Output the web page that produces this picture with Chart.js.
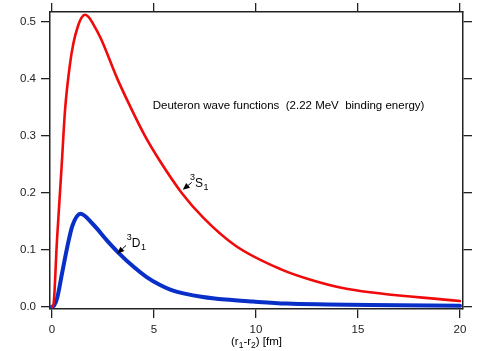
<!DOCTYPE html>
<html>
<head>
<meta charset="utf-8">
<style>
  body { margin: 0; background: #fff; }
  canvas { display: block; }
</style>
</head>
<body>
<canvas id="chart" width="488" height="351"></canvas>
<script src="https://cdn.jsdelivr.net/npm/chart.js"></script>
<script>
  // 3S1 wave function
  const rS = [0, 0.05, 0.25, 0.47, 0.64, 0.88, 1.05, 1.29, 1.45, 1.62, 1.8, 2.0, 2.4, 3.2, 3.85, 4.55, 5.3, 6.35, 7.45, 9.0, 11.2, 12.8, 14.5, 20];
  const uS = [0, 0, 0.12, 0.245, 0.345, 0.425, 0.462, 0.494, 0.507, 0.512, 0.508, 0.497, 0.47, 0.40, 0.35, 0.30, 0.255, 0.20, 0.155, 0.107, 0.066, 0.046, 0.031, 0.010];

  // 3D1 wave function
  const rD = [0, 0.1, 0.25, 0.5, 0.75, 1.0, 1.4, 2.0, 2.7, 3.25, 4.0, 4.64, 5.3, 5.8, 6.5, 7.4, 8.5, 9.85, 11.5, 13.5, 15.6, 20];
  const uD = [0, 0.002, 0.015, 0.06, 0.105, 0.142, 0.163, 0.145, 0.116, 0.095, 0.07, 0.052, 0.038, 0.03, 0.023, 0.017, 0.0125, 0.009, 0.0055, 0.004, 0.003, 0.0015];

  const xTicks = [0, 5, 10, 15, 20];
  const yTicks = [0, 0.1, 0.2, 0.3, 0.4, 0.5];

  const title = 'Deuteron wave functions  (2.22 MeV  binding energy)';
  const FONT = '"Liberation Sans", Arial, Helvetica, sans-serif';
  const INK = '#222';

  const pts = (xs, ys) => xs.map((x, i) => ({ x: x, y: ys[i] }));

  function axis(pos, min, max, list, labels, size) {
    const horiz = pos === 'top' || pos === 'bottom';
    return {
      type: 'linear',
      position: pos,
      min: min,
      max: max,
      afterBuildTicks: s => { s.ticks = list.map(v => ({ value: v })); },
      afterFit: s => { if (horiz) s.height = size; else s.width = size; },
      grid: { drawOnChartArea: false, tickLength: 9, color: INK, lineWidth: 1.3 },
      border: { color: INK, width: 1.5 },
      ticks: {
        display: labels,
        color: INK,
        padding: 5,
        maxRotation: 0,
        autoSkip: false,
        font: { family: FONT, size: 11.5 },
        callback: v => labels ? (horiz ? String(v) : v.toFixed(1)) : ''
      }
    };
  }

  // text with a leading superscript and trailing subscript, e.g. 3S1
  function term(ctx, sup, main, sub, x, y) {
    ctx.font = '9px ' + FONT;
    ctx.fillText(sup, x - 5, y - 7);
    ctx.font = '12px ' + FONT;
    ctx.fillText(main, x, y);
    const w = ctx.measureText(main).width;
    ctx.font = '9px ' + FONT;
    ctx.fillText(sub, x + w + 0.5, y + 3);
  }

  function arrow(ctx, x0, y0, x1, y1) {
    const a = Math.atan2(y1 - y0, x1 - x0);
    const L = 7, W = 3;
    ctx.beginPath();
    ctx.moveTo(x0, y0);
    ctx.lineTo(x1 - L * Math.cos(a), y1 - L * Math.sin(a));
    ctx.lineWidth = 1;
    ctx.stroke();
    ctx.beginPath();
    ctx.moveTo(x1, y1);
    ctx.lineTo(x1 - L * Math.cos(a) + W * Math.sin(a), y1 - L * Math.sin(a) - W * Math.cos(a));
    ctx.lineTo(x1 - L * Math.cos(a) - W * Math.sin(a), y1 - L * Math.sin(a) + W * Math.cos(a));
    ctx.closePath();
    ctx.fill();
  }

  const notes = {
    id: 'notes',
    afterDatasetsDraw(chart) {
      const ctx = chart.ctx;
      const xs = chart.scales.x, ys = chart.scales.y;
      const X = v => xs.getPixelForValue(v), Y = v => ys.getPixelForValue(v);
      ctx.save();
      ctx.fillStyle = '#000';
      ctx.strokeStyle = '#000';
      ctx.textBaseline = 'alphabetic';
      ctx.textAlign = 'left';
      ctx.font = '11.5px ' + FONT;
      ctx.fillText(title, X(4.94), Y(0.347));

      term(ctx, '3', 'S', '1', X(7.01), Y(0.210));
      arrow(ctx, X(6.85), Y(0.218), X(6.41), Y(0.205));

      term(ctx, '3', 'D', '1', X(3.91), Y(0.1045));
      arrow(ctx, X(3.63), Y(0.1075), X(3.2), Y(0.093));

      // x axis title: (r1-r2) [fm]
      const ca = chart.chartArea;
      const parts = [['(r', 0], ['1', 1], ['-r', 0], ['2', 1], [') [fm]', 0]];
      let total = 0;
      parts.forEach(p => {
        ctx.font = (p[1] ? '8.5px ' : '11.5px ') + FONT;
        total += ctx.measureText(p[0]).width;
      });
      let x = (ca.left + ca.right) / 2 - total / 2;
      const base = 345;
      parts.forEach(p => {
        ctx.font = (p[1] ? '8.5px ' : '11.5px ') + FONT;
        ctx.fillText(p[0], x, base + (p[1] ? 3 : 0));
        x += ctx.measureText(p[0]).width;
      });
      ctx.restore();
    }
  };

  new Chart(document.getElementById('chart'), {
    type: 'line',
    data: {
      datasets: [
        {
          label: '3S1',
          data: pts(rS, uS),
          borderColor: 'rgb(240,10,10)',
          borderWidth: 2.6,
          pointRadius: 0,
          cubicInterpolationMode: 'monotone',
          borderCapStyle: 'round',
          borderJoinStyle: 'round',
          fill: false
        },
        {
          label: '3D1',
          data: pts(rD, uD),
          borderColor: 'rgb(8,48,200)',
          borderWidth: 4,
          pointRadius: 0,
          cubicInterpolationMode: 'monotone',
          borderCapStyle: 'round',
          borderJoinStyle: 'round',
          fill: false
        }
      ]
    },
    options: {
      responsive: false,
      animation: false,
      devicePixelRatio: 1,
      layout: { padding: 0 },
      plugins: { legend: { display: false }, tooltip: { enabled: false } },
      scales: {
        x: axis('bottom', -0.098, 20.15, xTicks, true, 42),
        x2: axis('top', -0.098, 20.15, xTicks, false, 10),
        y: axis('left', -0.004, 0.517, yTicks, true, 50),
        y2: axis('right', -0.004, 0.517, yTicks, false, 25)
      }
    },
    plugins: [notes]
  });
</script>
</body>
</html>
